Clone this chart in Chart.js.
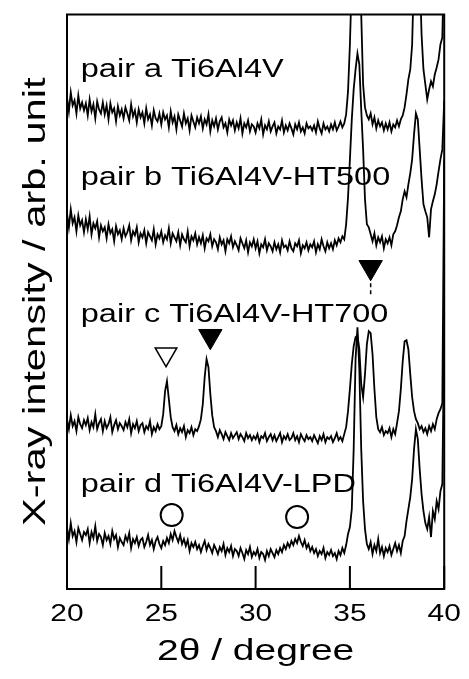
<!DOCTYPE html>
<html>
<head>
<meta charset="utf-8">
<script src="https://cdn.jsdelivr.net/npm/chart.js@4.4.1/dist/chart.umd.min.js"></script>
<style>
  html, body { margin: 0; padding: 0; background: #fff; }
  #wrap { width: 469px; height: 679px; }
</style>
</head>
<body>
<div id="wrap"><canvas id="chart"></canvas></div>
<script>
// 2theta grid of the scans (degree)
const twoTheta = Array.from({ length: 201 }, (_, i) => +(20 + i * 0.1).toFixed(1));

// intensities (arb. unit, traces already offset), one row per degree
const pairA = [
  492, 478, 497, 484, 489, 476, 494, 481, 487, 479,
  486, 474, 490, 478, 485, 471, 488, 480, 476, 487,
  475, 484, 470, 486, 477, 481, 468, 483, 474, 480,
  471, 482, 476, 469, 485, 473, 479, 467, 480, 472,
  477, 466, 481, 470, 475, 464, 479, 471, 468, 476,
  465, 477, 470, 474, 462, 478, 467, 473, 460, 475,
  469, 463, 476, 466, 471, 459, 474, 468, 462, 472,
  466, 473, 461, 470, 465, 475, 458, 469, 463, 471,
  460, 468, 472, 462, 466, 457, 470, 464, 469, 459,
  467, 461, 471, 456, 466, 462, 469, 458, 465, 463,
  457, 466, 461, 470, 455, 464, 460, 468, 458, 463,
  467, 456, 463, 460, 469, 457, 464, 459, 466, 461,
  455, 465, 460, 467, 458, 462, 456, 466, 461, 463,
  459, 464, 457, 468, 461, 456, 466, 460, 463, 458,
  465, 460, 467, 459, 463, 468, 462, 466, 475, 498,
  545, 610, 700, 720, 690, 630, 575, 505, 482, 474,
  470, 476, 465, 472, 461, 469, 463, 467, 459, 466,
  460, 467, 458, 465, 462, 469, 463, 470, 474, 482,
  495, 510, 520, 545, 620, 720, 700, 620, 555, 520,
  505, 490, 500, 508, 503, 515, 522, 530, 545, 552,
  640
];
const pairB = [
  376, 362, 380, 366, 372, 358, 374, 364, 369, 357,
  370, 360, 373, 355, 366, 361, 368, 352, 364, 358,
  362, 351, 365, 356, 360, 348, 363, 355, 359, 350,
  361, 353, 357, 364, 349, 358, 354, 362, 347, 356,
  352, 359, 346, 357, 353, 349, 360, 345, 355, 351,
  358, 347, 354, 350, 361, 346, 356, 352, 348, 357,
  344, 355, 350, 347, 358, 343, 353, 349, 356, 345,
  352, 346, 354, 341, 351, 348, 355, 343, 350, 347,
  340, 352, 345, 349, 338, 350, 346, 353, 342, 348,
  344, 339, 351, 346, 341, 349, 337, 347, 343, 350,
  341, 348, 336, 345, 342, 350, 339, 346, 343, 338,
  347, 340, 345, 337, 349, 342, 344, 339, 348, 341,
  338, 346, 343, 349, 336, 344, 341, 347, 339, 345,
  342, 348, 337, 345, 340, 350, 343, 338, 347, 341,
  346, 340, 349, 344, 351, 347, 353, 350, 365, 392,
  430, 470, 500, 520, 536, 525, 480, 440, 390, 365,
  362, 355, 348, 356, 344, 352, 347, 353, 341, 350,
  346, 352, 344, 355, 358, 364, 372, 378, 390, 398,
  392, 405, 416, 430, 455, 476, 470, 440, 410, 385,
  378, 372, 352, 380, 388, 395, 405, 418, 430, 440,
  489
];
const pairC = [
  170, 160, 174, 163, 168, 158, 172, 165, 161, 169,
  164, 171, 159, 167, 162, 175, 160, 166, 170, 158,
  168, 161, 165, 172, 157, 164, 169, 160, 166, 163,
  159, 167, 162, 170, 156, 165, 161, 168, 158, 164,
  166, 157, 163, 160, 168, 155, 162, 158, 165, 160,
  163, 175, 198, 208, 190, 172, 162, 158, 164, 155,
  161, 157, 163, 152, 159, 156, 162, 154, 160, 158,
  163, 170, 185, 212, 230, 222, 195, 174, 162, 158,
  152, 159, 155, 150, 157, 153, 149, 156, 151, 154,
  157, 150, 155, 152, 148, 156, 151, 154, 149, 153,
  150, 155, 147, 153, 151, 156, 148, 152, 155, 149,
  154, 148, 152, 156, 147, 153, 150, 155, 149, 151,
  156, 149, 153, 147, 155, 151, 148, 154, 150, 152,
  148, 154, 150, 146, 153, 149, 155, 147, 152, 150,
  153, 147, 151, 156, 149, 152, 148, 155, 162, 178,
  200, 225, 243, 252, 254, 240, 205, 192, 215, 245,
  258, 256, 235, 200, 172, 160, 157, 162, 154, 158,
  156, 161, 152, 160, 155, 166, 178, 200, 228, 248,
  249, 240, 215, 192, 178, 170, 166, 160, 163, 157,
  161, 155, 163, 158, 165, 160, 170, 176, 180, 186,
  430
];
const pairD = [
  62, 50, 66, 53, 58, 47, 61, 55, 49, 57,
  54, 60, 46, 57, 51, 63, 48, 55, 52, 44,
  56, 49, 53, 45, 58, 50, 54, 42, 51, 47,
  44, 53, 48, 56, 41, 50, 46, 52, 43, 49,
  51, 42, 47, 54, 44, 49, 40, 48, 52, 45,
  41, 48, 44, 51, 46, 55, 49, 58, 52, 47,
  54, 45, 50, 43, 49, 38, 46, 42, 47, 40,
  44, 37, 43, 48, 39, 45, 41, 36, 44, 40,
  35, 42, 38, 45, 34, 41, 37, 43, 33, 40,
  38, 33, 41, 36, 30, 39, 35, 42, 32, 37,
  34, 40, 31, 37, 35, 29, 38, 33, 40, 36,
  32, 39, 35, 41, 37, 44, 40, 46, 42, 48,
  44, 50, 46, 53, 47, 43, 49, 41, 45, 38,
  42, 36, 40, 33, 38, 35, 41, 31, 37, 34,
  39, 33, 36, 30, 38, 34, 41, 36, 44, 55,
  62, 80, 140, 230, 262, 220, 140, 88, 60, 45,
  40, 47, 35, 44, 38, 50, 36, 42, 33, 41,
  37, 43, 34, 40, 46, 38, 44, 36, 48, 53,
  68, 80, 92, 110, 140, 160, 150, 120, 95, 78,
  66, 60, 72, 52, 78, 70, 88, 80, 98, 105,
  260
];

// peak markers
const openTriangles = [{ x: 25.25, y: 235 }];
const filledTriangles = [{ x: 27.6, y: 253 }, { x: 36.1, y: 322 }];
const circles = [{ x: 25.55, y: 74 }, { x: 32.2, y: 72 }];
const markerGuide = [{ x: 36.1, y: 306 }, { x: 36.1, y: 292 }];

const xTicks = [20, 25, 30, 35, 40];
const pairLabels = [
  { text: 'pair a Ti6Al4V', x: 20.73, y: 512 },
  { text: 'pair b Ti6Al4V-HT500', x: 20.73, y: 404 },
  { text: 'pair c Ti6Al4V-HT700', x: 20.73, y: 267 },
  { text: 'pair d Ti6Al4V-LPD', x: 20.73, y: 97 }
];

const FONT = '"Liberation Sans", Arial, sans-serif';
const TEXT_STRETCH = 1.3; // the figure's lettering is wide

const toPoints = (ys) => twoTheta.map((x, i) => ({ x, y: ys[i] }));

const trace = (label, ys) => ({
  label,
  data: toPoints(ys),
  borderColor: '#000',
  borderWidth: 1.8,
  pointRadius: 0,
  tension: 0
});

// stretch every text run horizontally along its own direction
const wideText = {
  id: 'wideText',
  beforeInit(chart) {
    const ctx = chart.ctx;
    const fill = ctx.fillText.bind(ctx);
    ctx.fillText = (text, x, y, maxWidth) => {
      ctx.save();
      ctx.translate(x, y);
      ctx.scale(TEXT_STRETCH, 1);
      if (maxWidth === undefined || maxWidth === null) fill(text, 0, 0);
      else fill(text, 0, 0, maxWidth / TEXT_STRETCH);
      ctx.restore();
    };
  }
};

const frame = {
  id: 'frame',
  afterDatasetsDraw(chart) {
    const { ctx, chartArea: a, scales: { x, y } } = chart;
    ctx.save();
    ctx.strokeStyle = '#000';
    ctx.lineWidth = 2;
    ctx.strokeRect(a.left, a.top, a.right - a.left, a.bottom - a.top);
    ctx.beginPath();
    xTicks.forEach(v => {
      const px = x.getPixelForValue(v);
      ctx.moveTo(px, a.bottom);
      ctx.lineTo(px, a.bottom - 23);
    });
    ctx.stroke();
    ctx.fillStyle = '#000';
    ctx.font = `25px ${FONT}`;
    ctx.textAlign = 'left';
    ctx.textBaseline = 'alphabetic';
    pairLabels.forEach(l => ctx.fillText(l.text, x.getPixelForValue(l.x), y.getPixelForValue(l.y)));
    ctx.restore();
  }
};

new Chart(document.getElementById('chart'), {
  type: 'line',
  data: {
    datasets: [
      trace('pair a', pairA),
      trace('pair b', pairB),
      trace('pair c', pairC),
      trace('pair d', pairD),
      {
        label: 'guide',
        data: markerGuide,
        borderColor: '#000',
        borderWidth: 1.5,
        borderDash: [4, 3],
        pointRadius: 0
      },
      {
        label: 'open triangle',
        data: openTriangles,
        showLine: false,
        pointStyle: 'triangle',
        rotation: 180,
        pointRadius: 12.5,
        backgroundColor: '#fff',
        borderColor: '#000',
        borderWidth: 1.5
      },
      {
        label: 'filled triangle',
        data: filledTriangles,
        showLine: false,
        pointStyle: 'triangle',
        rotation: 180,
        pointRadius: 13.5,
        backgroundColor: '#000',
        borderColor: '#000',
        borderWidth: 1
      },
      {
        label: 'circle',
        data: circles,
        showLine: false,
        pointStyle: 'circle',
        pointRadius: 11,
        backgroundColor: '#fff',
        borderColor: '#000',
        borderWidth: 2
      }
    ]
  },
  options: {
    responsive: true,
    maintainAspectRatio: false,
    animation: false,
    layout: { padding: { top: 14, right: 19, left: 0, bottom: 0 } },
    plugins: {
      legend: { display: false },
      tooltip: { enabled: false }
    },
    scales: {
      x: {
        type: 'linear',
        min: 20,
        max: 40,
        grid: { display: false, drawTicks: false },
        border: { display: false },
        ticks: {
          stepSize: 5,
          padding: 12,
          color: '#000',
          font: { family: FONT, size: 23 }
        },
        title: {
          display: true,
          text: '2θ / degree',
          color: '#000',
          font: { family: FONT, size: 30 },
          padding: { top: 0, bottom: 9 }
        },
        afterFit: (s) => { s.height = 90; }
      },
      y: {
        min: 0,
        max: 575,
        grid: { display: false, drawTicks: false },
        border: { display: false },
        ticks: { display: false },
        title: {
          display: true,
          text: 'X-ray intensity / arb. unit',
          color: '#000',
          font: { family: FONT, size: 32 },
          padding: { top: 17, bottom: 0 }
        },
        afterFit: (s) => { s.width = 67; }
      }
    }
  },
  plugins: [wideText, frame]
});
</script>
</body>
</html>
